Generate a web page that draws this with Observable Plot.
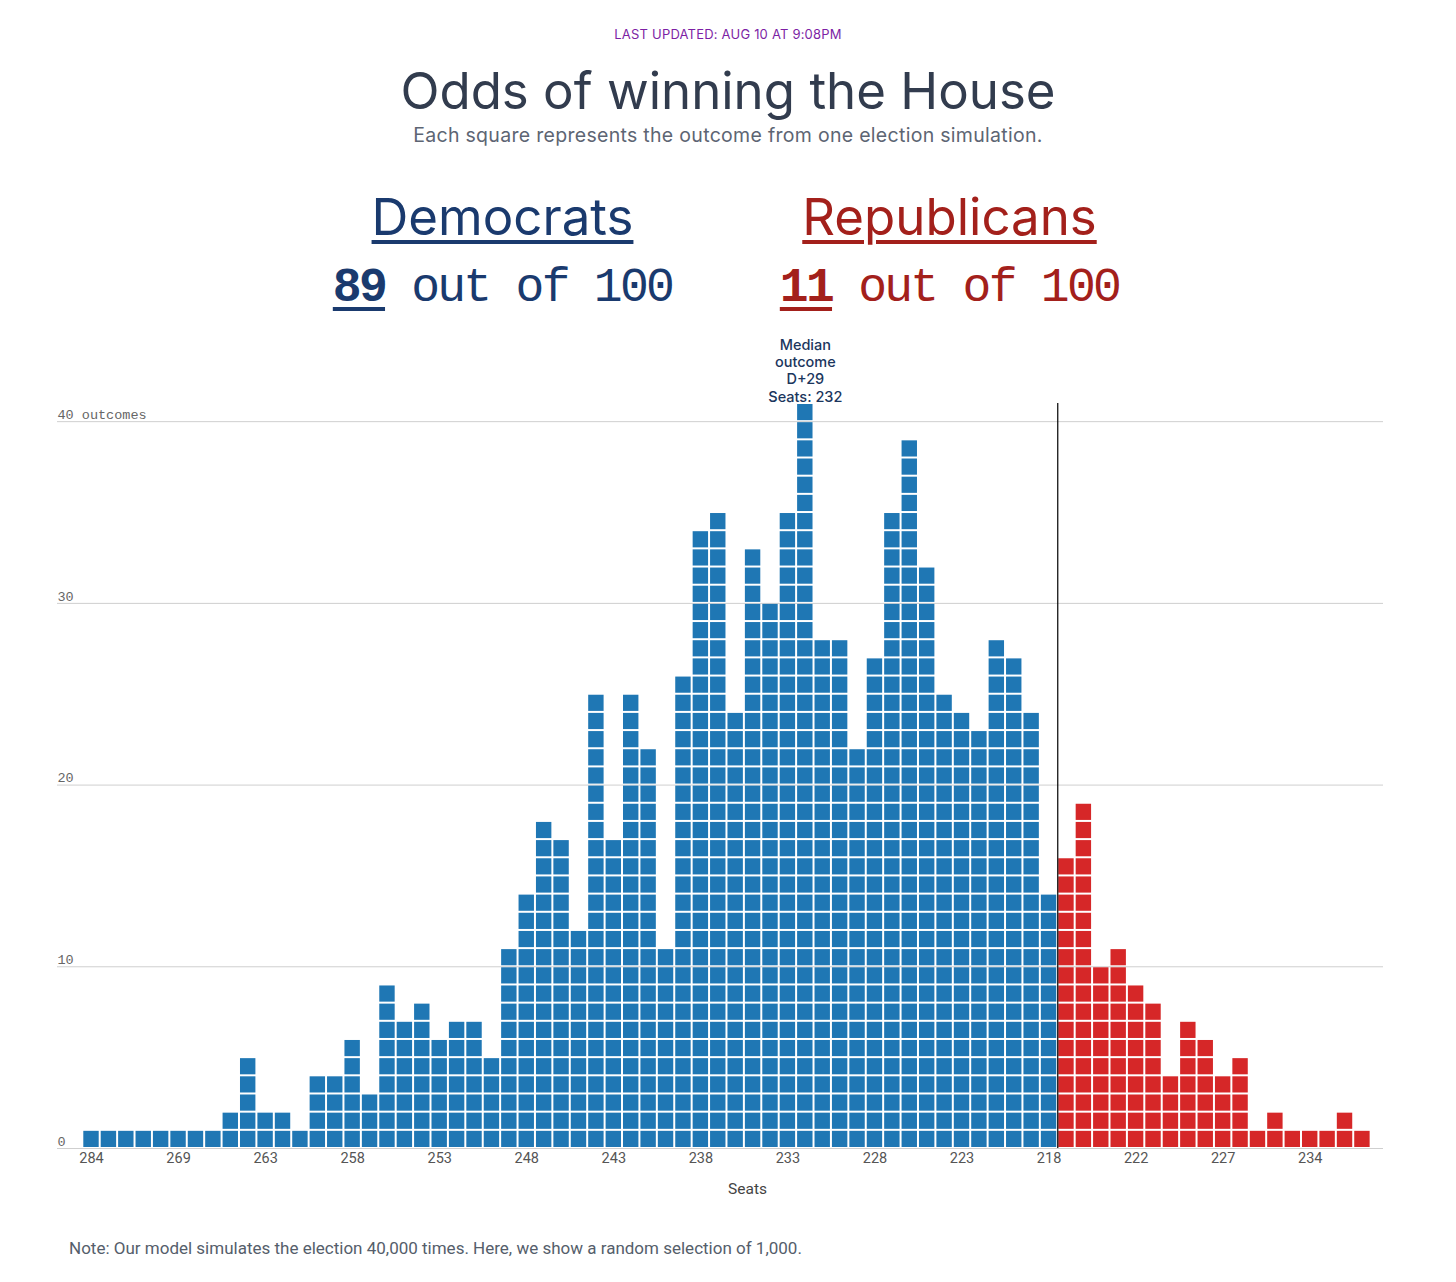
<!DOCTYPE html>
<html>
<head>
<meta charset="utf-8">
<script src="https://cdn.jsdelivr.net/npm/d3@7"></script>
<script src="https://cdn.jsdelivr.net/npm/@observablehq/plot@0.6"></script>
<style>
  body { margin:0; background:#fff; width:1456px; height:1282px; position:relative; font-family: Inter, "Noto Sans", sans-serif; overflow:hidden; }
  .abs { position:absolute; left:0; width:1456px; text-align:center; line-height:1; white-space:nowrap; }
  #updated { top:28px; font-size:13px; color:#7d1fa5; letter-spacing:0.2px; }
  #title { top:65px; font-size:51px; color:#323c4e; }
  #subtitle { top:126px; font-size:19.5px; color:#5d6573; letter-spacing:0.3px; }
  .party { position:absolute; width:447px; text-align:center; line-height:1; white-space:nowrap; }
  .name { top:191px; font-size:51px; text-decoration:underline; text-decoration-thickness:4px; text-underline-offset:5px; }
  .odds { top:264px; font-family:"Liberation Mono", "DejaVu Sans Mono", monospace; font-size:48px; letter-spacing:-2.7px; }
  .odds b { text-decoration:underline; text-decoration-thickness:4px; text-underline-offset:6px; }
  .dem { left:279px; color:#1a3a6e; }
  .rep { left:726px; color:#a3201b; }
  #chart { position:absolute; top:330px; left:0; }
  #note { position:absolute; top:1238px; left:69px; font-family:Roboto, sans-serif; font-size:17px; color:#555e6b; white-space:nowrap; }
</style>
</head>
<body>
<div id="updated" class="abs">LAST UPDATED: AUG 10 AT 9:08PM</div>
<div id="title" class="abs">Odds of winning the House</div>
<div id="subtitle" class="abs">Each square represents the outcome from one election simulation.</div>
<div class="party name dem">Democrats</div>
<div class="party name rep">Republicans</div>
<div class="party odds dem"><b>89</b> out of 100</div>
<div class="party odds rep"><b>11</b> out of 100</div>
<div id="chart"></div>
<div id="note">Note: Our model simulates the election 40,000 times. Here, we show a random selection of 1,000.</div>
<script>
// Democratic-held seat totals (one column per distinct outcome), left to right
const demSeats = [284,280,277,275,272,269,267,266,265,264,263,262,261,260,259,258,257,256,255,254,253,252,251,250,249,248,247,246,245,244,243,242,241,240,239,238,237,236,235,234,233,232,231,230,229,228,227,226,225,224,223,222,221,220,219,218];
const demCounts = [1,1,1,1,1,1,1,1,2,5,2,2,1,4,4,6,3,9,7,8,6,7,7,5,11,14,18,17,12,25,17,25,22,11,26,34,35,24,33,30,35,41,28,28,22,27,35,39,32,25,24,23,28,27,24,14];
// Republican-held seat totals
const repSeats = [218,219,220,221,222,223,224,225,226,227,228,229,230,232,234,235,237,240];
const repCounts = [16,19,10,11,9,8,4,7,6,4,5,1,2,1,1,1,2,1];
const yTicks = [0,10,20,30,40];
const tickEvery = 5;
const demColor = "#1f77b4", repColor = "#d62728";

const columns = [
  ...demSeats.map((s, i) => ({party: "D", seat: s, count: demCounts[i]})),
  ...repSeats.map((s, i) => ({party: "R", seat: s, count: repCounts[i]}))
];
columns.forEach((c, i) => c.i = i);
const squares = columns.flatMap(c => d3.range(c.count).map(k => ({i: c.i, k, party: c.party})));
const total = d3.sum(columns, c => c.count);
let cum = 0;
const medianCol = columns.find(c => (cum += c.count) >= total / 2);
const medianText = `Median\noutcome\n${medianCol.party}+${2 * medianCol.seat - 435}\nSeats: ${medianCol.seat}`;
const tickIdx = columns.filter(c => c.i % tickEvery === 0).map(c => c.i + 0.5);

const chart = Plot.plot({
  width: 1456,
  height: 880,
  marginTop: 73,
  marginBottom: 62,
  marginLeft: 57,
  marginRight: 73,
  x: {type: "linear", domain: [-1.453, 74.71], label: null},
  y: {domain: [0, 41], label: null},
  color: {domain: ["D", "R"], range: [demColor, repColor]},
  style: {background: "transparent", overflow: "visible"},
  marks: [
    Plot.gridY(yTicks, {stroke: "#cfcfcf", strokeOpacity: 1, strokeWidth: 1}),
    Plot.rect(squares, {x1: "i", x2: d => d.i + 1, y1: "k", y2: d => d.k + 1, fill: "party", inset: 1}),
    Plot.ruleX([demSeats.length], {stroke: "#000", strokeWidth: 1.2}),
    Plot.axisY(yTicks, {anchor: "left", tickSize: 0, tickPadding: 0, textAnchor: "start", dy: -7, label: null,
      tickFormat: d => d === 40 ? "40 outcomes" : String(d),
      fontFamily: "Liberation Mono, DejaVu Sans Mono, monospace", fontSize: 13.5, fill: "#666"}),
    Plot.axisX(tickIdx, {anchor: "bottom", tickSize: 0, tickPadding: 4, label: null,
      tickFormat: v => String(columns[Math.floor(v)].seat),
      fontFamily: "Roboto, sans-serif", fontSize: 14.5, fill: "#555"}),
    Plot.text(["Seats"], {frameAnchor: "bottom", dy: 45, dx: 27, fontFamily: "Roboto, sans-serif", fontSize: 15.5, fill: "#444"}),
    Plot.text([medianCol], {x: d => d.i + 0.5, y: d => d.count, text: () => medianText, lineAnchor: "bottom", dy: -2,
      lineHeight: 1.18, fontFamily: "Inter, sans-serif", fontSize: 14.5, fontWeight: 500, fill: "#1b365d"})
  ]
});
document.getElementById("chart").appendChild(chart);
</script>
</body>
</html>
